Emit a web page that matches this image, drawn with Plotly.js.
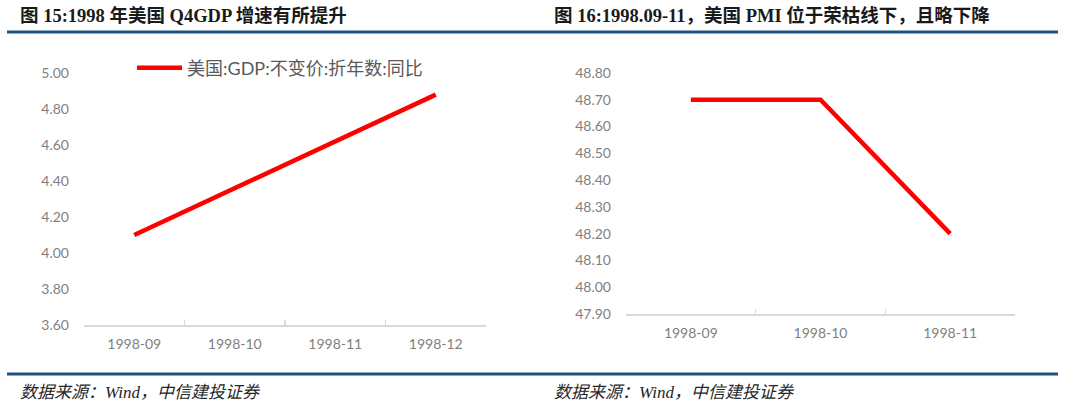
<!DOCTYPE html>
<html>
<head>
<meta charset="utf-8">
<script src="https://cdn.plot.ly/plotly-3.0.1.min.js"></script>
<style>
    html, body { margin: 0; padding: 0; background: #ffffff; }
    #chart { width: 1080px; height: 404px; }
</style>
</head>
<body>
<div id="chart"></div>
<script>
// left panel: quarterly GDP, only Sep and Dec carry a value
const gdpMonths = ["1998-09", "1998-10", "1998-11", "1998-12"];
const gdpValues = [4.10, null, null, 4.88];
const gdpName = "美国:GDP:不变价:折年数:同比";

// right panel: PMI
const pmiMonths = ["1998-09", "1998-10", "1998-11"];
const pmiValues = [48.70, 48.70, 48.20];

const leftTitle = "图 15:1998 年美国 Q4GDP 增速有所提升";
const rightTitle = "图 16:1998.09-11，美国 PMI 位于荣枯线下，且略下降";
const sourceText = "数据来源：Wind，中信建投证券";

const W = 1080;
const H = 404;
const px = (x) => x / W;
const py = (y) => 1 - y / H;

const LINE_RED = "#ff0000";
const RULE_BLUE = "#1d5283";
const TICK_FONT = { family: "Lato, 'Noto Sans CJK SC', sans-serif", size: 14, color: "#7f7f7f" };
const TITLE_FONT = { family: "'Liberation Serif', 'Noto Sans CJK SC', serif", size: 18.5, color: "#1a1a1a", weight: 700 };
const SOURCE_FONT = { family: "'Liberation Serif', 'Noto Sans CJK SC', serif", size: 17, color: "#262626", style: "italic" };

function categoryAxis(domain, anchor, categories) {
    return {
        domain: domain,
        anchor: anchor,
        type: "category",
        range: [-0.5, categories.length - 0.5],
        showline: true,
        linecolor: "#d9d9d9",
        linewidth: 1.5,
        ticks: "inside",
        tickson: "boundaries",
        ticklen: 5,
        tickcolor: "#d9d9d9",
        tickwidth: 1.5,
        showgrid: false,
        zeroline: false,
        tickfont: TICK_FONT,
        ticklabelstandoff: 6,
        fixedrange: true
    };
}

function valueAxis(domain, anchor, range, dtick) {
    return {
        domain: domain,
        anchor: anchor,
        range: range,
        dtick: dtick,
        tick0: range[0],
        tickformat: ".2f",
        showline: false,
        showgrid: false,
        zeroline: false,
        ticks: "",
        tickfont: TICK_FONT,
        ticklabelstandoff: 14,
        fixedrange: true
    };
}

const data = [
    {
        x: gdpMonths,
        y: gdpValues,
        name: gdpName,
        type: "scatter",
        mode: "lines",
        connectgaps: true,
        line: { color: LINE_RED, width: 4.5 },
        xaxis: "x",
        yaxis: "y",
        showlegend: true
    },
    {
        x: pmiMonths,
        y: pmiValues,
        name: "美国:PMI",
        type: "scatter",
        mode: "lines",
        line: { color: LINE_RED, width: 4.5 },
        xaxis: "x2",
        yaxis: "y2",
        showlegend: false
    }
];

function rule(y) {
    return {
        type: "line",
        xref: "paper",
        yref: "paper",
        x0: px(7),
        x1: px(1058),
        y0: py(y),
        y1: py(y),
        line: { color: RULE_BLUE, width: 3 }
    };
}

function textNote(text, x, y, font) {
    return {
        text: text,
        xref: "paper",
        yref: "paper",
        x: px(x),
        y: py(y),
        xanchor: "left",
        yanchor: "middle",
        showarrow: false,
        font: font
    };
}

const layout = {
    width: W,
    height: H,
    margin: { l: 0, r: 0, t: 0, b: 0 },
    paper_bgcolor: "#ffffff",
    plot_bgcolor: "#ffffff",
    xaxis: categoryAxis([px(84), px(486)], "y", gdpMonths),
    yaxis: valueAxis([py(325), py(73)], "x", [3.6, 5.0], 0.2),
    xaxis2: categoryAxis([px(626), px(1015)], "y2", pmiMonths),
    yaxis2: valueAxis([py(314), py(73)], "x2", [47.9, 48.8], 0.1),
    showlegend: true,
    legend: {
        x: px(132),
        y: py(68),
        xanchor: "left",
        yanchor: "middle",
        orientation: "h",
        bgcolor: "rgba(0,0,0,0)",
        itemwidth: 45,
        font: { family: "Lato, 'Noto Sans CJK SC', sans-serif", size: 18, color: "#595959" }
    },
    shapes: [rule(32), rule(374)],
    annotations: [
        textNote(leftTitle, 18, 15, TITLE_FONT),
        textNote(rightTitle, 552, 15, TITLE_FONT),
        textNote(sourceText, 18, 392, SOURCE_FONT),
        textNote(sourceText, 552, 392, SOURCE_FONT)
    ]
};

Plotly.newPlot("chart", data, layout, { staticPlot: true, displayModeBar: false });
</script>
</body>
</html>
